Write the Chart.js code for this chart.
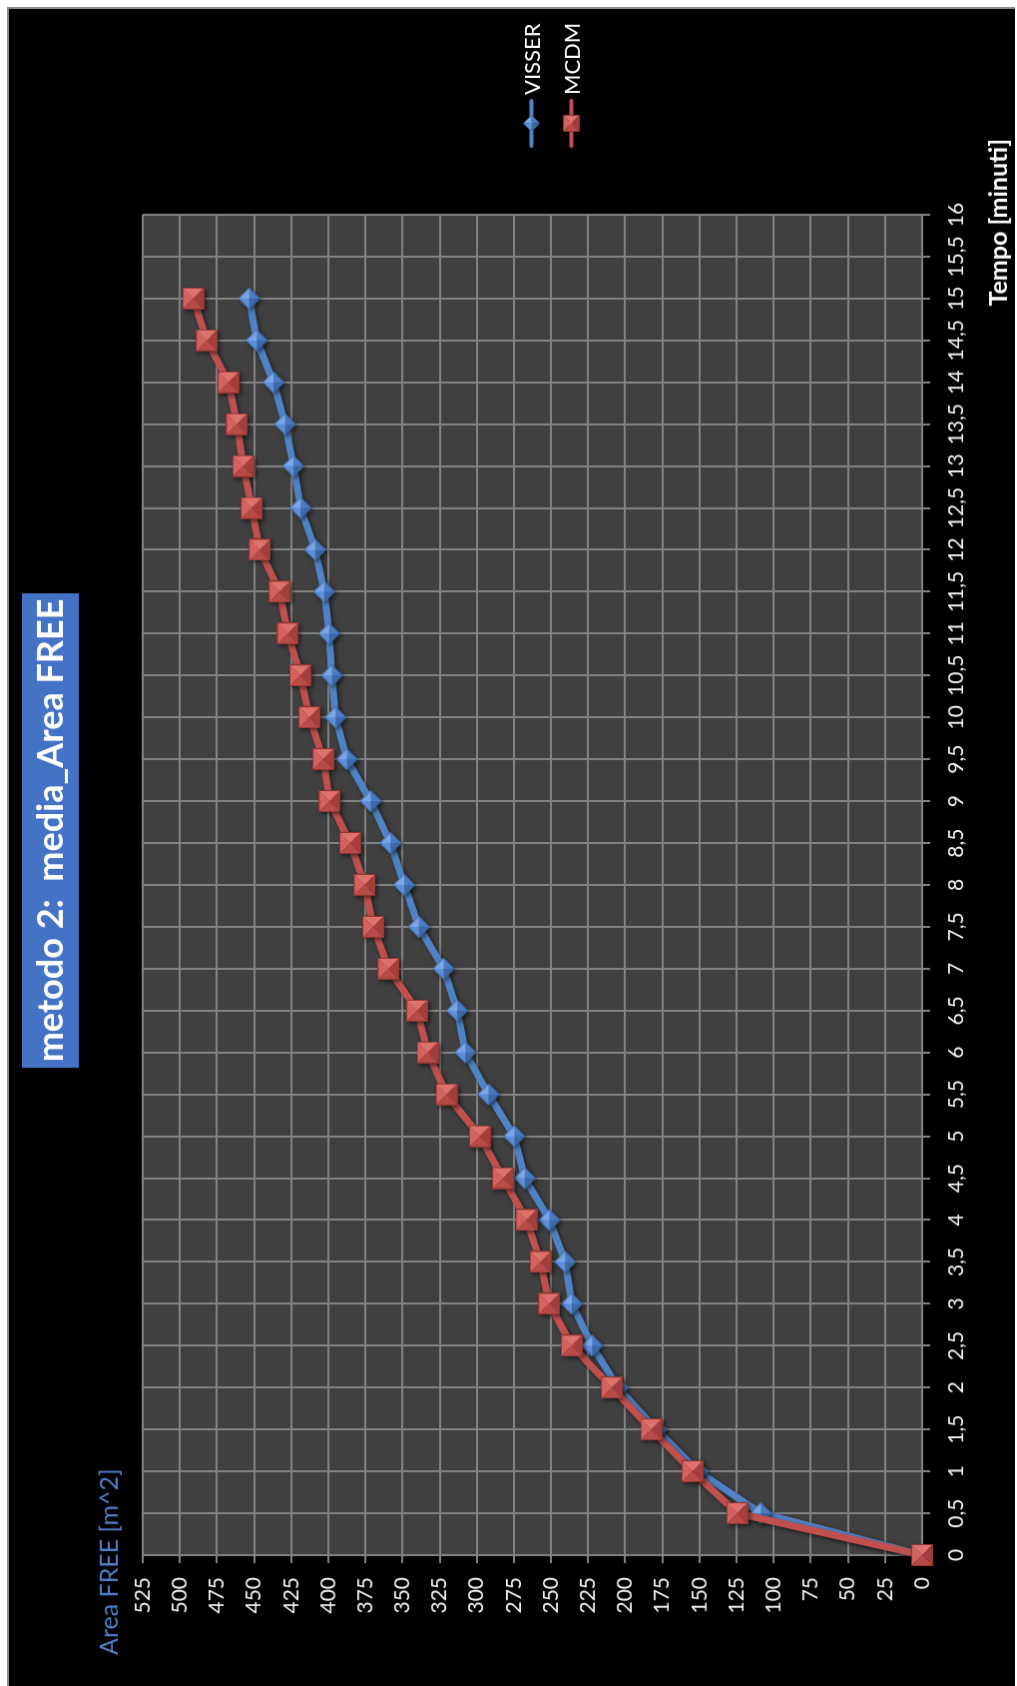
<!DOCTYPE html>
<html>
<head>
<meta charset="utf-8">
<title>metodo 2: media_Area FREE</title>
<script src="https://cdn.jsdelivr.net/npm/chart.js@4/dist/chart.umd.min.js"></script>
<style>
  html, body { margin: 0; padding: 0; background: #fff; width: 1017px; height: 1686px; overflow: hidden; }
  /* the chart is laid out landscape and turned a quarter turn counter-clockwise */
  #frame {
    position: absolute; left: 0; top: 0; width: 1686px; height: 1017px;
    transform-origin: 0 0; transform: translateY(1686px) rotate(-90deg);
    background: #fff;
  }
  #chart {
    position: absolute; left: 0; top: 7px;
    background: #000;
    border-top: 2px solid #8a8a8a; border-right: 2px solid #8a8a8a;
  }
</style>
</head>
<body>
<div id="frame"><canvas id="chart" width="1679" height="1008"></canvas></div>
<script>
// Tempo [minuti] – category labels of the time axis
const tempo = ['0','0,5','1','1,5','2','2,5','3','3,5','4','4,5','5','5,5','6','6,5','7','7,5',
               '8','8,5','9','9,5','10','10,5','11','11,5','12','12,5','13','13,5','14','14,5','15','15,5','16'];

// Area FREE [m^2], one value per half minute from 0 to 15
const visser = [0, 108.7, 151, 179, 205, 222.3, 236, 240.5, 251.1, 267.7, 274.7, 292.1, 307.7, 313.2,
                322.3, 339, 348.9, 358.1, 371.5, 387.5, 395.1, 397.6, 399.5, 402.7, 408.9, 418.6,
                423.5, 429.1, 436.9, 448.2, 453.3];
const mcdm   = [0, 124.5, 154.8, 182.5, 209, 236, 251.2, 257, 266.5, 282.3, 297.9, 320.3, 333, 340.1,
                359.4, 369.7, 375.5, 385.2, 399.1, 403.4, 412.7, 418.8, 427.2, 432.8, 446.1, 451.6,
                457.3, 461.5, 467.2, 481.8, 491];

const seriesNames = ['VISSER', 'MCDM'];
const chartTitle = 'metodo 2:  media_Area FREE';
const xTitle = 'Tempo [minuti]';
const yTitle = 'Area FREE [m^2]';

const FONT = 'Lato, "Open Sans", sans-serif';
const BLUE = '#5083C6';
const RED = '#C0504D';
const GRID = '#828282';

// bevelled marker images (pyramid shading)
function face(g, pts, col) {
  g.beginPath();
  g.moveTo(pts[0][0], pts[0][1]);
  for (let i = 1; i < pts.length; i++) g.lineTo(pts[i][0], pts[i][1]);
  g.closePath();
  g.fillStyle = col;
  g.fill();
}
function squareMarker(size, c) {
  const cv = document.createElement('canvas');
  cv.width = cv.height = size;
  const g = cv.getContext('2d');
  const m = size / 2, e = size;
  face(g, [[0,0],[e,0],[m,m]], c.light);   // top
  face(g, [[e,0],[e,e],[m,m]], c.lighter); // right
  face(g, [[e,e],[0,e],[m,m]], c.dark);    // bottom
  face(g, [[0,e],[0,0],[m,m]], c.mid);     // left
  g.strokeStyle = c.edge; g.lineWidth = 1;
  g.strokeRect(0.5, 0.5, e - 1, e - 1);
  return cv;
}
function diamondMarker(size, c) {
  const cv = document.createElement('canvas');
  cv.width = cv.height = size;
  const g = cv.getContext('2d');
  const m = size / 2, e = size;
  face(g, [[m,0],[e,m],[m,m]], c.lighter); // upper right
  face(g, [[e,m],[m,e],[m,m]], c.mid);     // lower right
  face(g, [[m,e],[0,m],[m,m]], c.dark);    // lower left
  face(g, [[0,m],[m,0],[m,m]], c.light);   // upper left
  g.beginPath(); g.moveTo(m,0.5); g.lineTo(e-0.5,m); g.lineTo(m,e-0.5); g.lineTo(0.5,m); g.closePath();
  g.strokeStyle = c.edge; g.lineWidth = 1; g.stroke();
  return cv;
}
const blueShades = { lighter: '#7AA6E6', light: '#5E8ED6', mid: '#4B7BC2', dark: '#3D68A8', edge: '#3A64A0' };
const redShades  = { lighter: '#E0726E', light: '#D6625E', mid: '#B84A47', dark: '#A43E3B', edge: '#8E3532' };

const blueMark = diamondMarker(22, blueShades);
const redMark = squareMarker(22, redShades);
const blueMarkSmall = diamondMarker(17, blueShades);
const redMarkSmall = squareMarker(17, redShades);

const decor = {
  id: 'decor',
  beforeDraw(chart) {
    const { ctx, chartArea: a } = chart;
    ctx.save();
    ctx.fillStyle = '#404040';
    ctx.fillRect(a.left, a.top, a.right - a.left, a.bottom - a.top);
    ctx.restore();
  },
  beforeDatasetsDraw(chart) {
    const ctx = chart.ctx;
    ctx.save();
    ctx.shadowColor = 'rgba(0,0,0,0.55)';
    ctx.shadowBlur = 4;
    ctx.shadowOffsetX = -2;
    ctx.shadowOffsetY = 2;
  },
  afterDatasetsDraw(chart) {
    chart.ctx.restore();
  },
  afterDraw(chart) {
    const ctx = chart.ctx;
    ctx.save();
    // title box
    ctx.fillStyle = '#4472C4';
    ctx.fillRect(619, 13, 475, 57);
    ctx.fillStyle = '#ffffff';
    ctx.font = 'bold 36px ' + FONT;
    ctx.textAlign = 'center';
    ctx.textBaseline = 'middle';
    ctx.fillText(chartTitle, 856.5, 42);

    // value axis title
    ctx.fillStyle = '#4F7FCB';
    ctx.font = '25px ' + FONT;
    ctx.textAlign = 'left';
    ctx.fillText(yTitle, 31, 101);

    // time axis title
    ctx.fillStyle = '#ffffff';
    ctx.font = 'bold 25px ' + FONT;
    ctx.textAlign = 'right';
    ctx.fillText(xTitle, 1549, 992);

    // legend
    const items = [
      { name: seriesNames[0], color: BLUE, mark: blueMarkSmall, y: 523.5 },
      { name: seriesNames[1], color: RED, mark: redMarkSmall, y: 563.5 }
    ];
    ctx.font = '22px ' + FONT;
    ctx.textAlign = 'left';
    items.forEach(it => {
      ctx.strokeStyle = it.color;
      ctx.lineWidth = 4;
      ctx.lineCap = 'round';
      ctx.beginPath();
      ctx.moveTo(1542, it.y);
      ctx.lineTo(1587, it.y);
      ctx.stroke();
      ctx.drawImage(it.mark, 1564.5 - it.mark.width / 2, it.y - it.mark.height / 2);
      ctx.fillStyle = '#ffffff';
      ctx.fillText(it.name, 1593, it.y + 1);
    });
    ctx.restore();
  }
};

new Chart(document.getElementById('chart'), {
  type: 'line',
  data: {
    labels: tempo,
    datasets: [
      {
        label: seriesNames[0], data: visser, order: 1,
        borderColor: BLUE, borderWidth: 7, tension: 0,
        pointStyle: blueMark, pointRadius: 11, clip: false
      },
      {
        label: seriesNames[1], data: mcdm, order: 0,
        borderColor: RED, borderWidth: 7, tension: 0,
        pointStyle: redMark, pointRadius: 11, clip: false
      }
    ]
  },
  options: {
    responsive: false,
    animation: false,
    devicePixelRatio: 1,
    layout: { padding: { left: 0, top: 134, right: 206, bottom: 0 } },
    plugins: { legend: { display: false }, title: { display: false }, tooltip: { enabled: false } },
    scales: {
      x: {
        type: 'category',
        offset: false,
        grid: { color: GRID, lineWidth: 2, tickLength: 8, drawTicks: true },
        border: { display: true, color: GRID, width: 2 },
        ticks: { color: '#f2f2f2', font: { family: FONT, size: 21 }, padding: 14, maxRotation: 0, autoSkip: false },
        afterFit(s) { s.height = 93; }
      },
      y: {
        type: 'linear',
        min: 0, max: 525,
        grid: { color: GRID, lineWidth: 2, tickLength: 8, drawTicks: true },
        border: { display: true, color: GRID, width: 2 },
        ticks: { stepSize: 25, color: '#f2f2f2', font: { family: FONT, size: 21 }, padding: 14 },
        afterFit(s) { s.width = 131; }
      }
    }
  },
  plugins: [decor]
});
</script>
</body>
</html>
